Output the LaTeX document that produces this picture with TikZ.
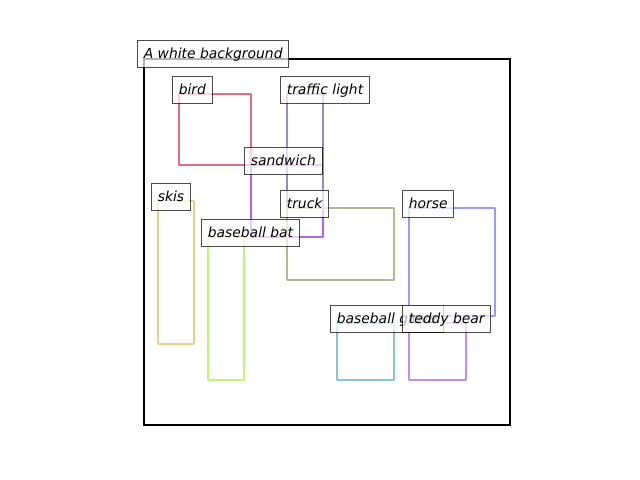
\documentclass[tikz,border=0pt]{standalone}
\usepackage{fontspec}
\setmainfont{DejaVu Sans}
\begin{document}
\begin{tikzpicture}[x=0.72pt,y=-0.72pt,
  box/.style={line width=1.9pt,line join=round},
  lab/.style={anchor=south west,draw=black,draw opacity=0.7,fill=white,fill opacity=0.7,text opacity=1,
    line width=0.8pt,inner xsep=4.5pt,inner ysep=4pt,text height=9.3pt,text depth=2.4pt,font=\itshape\fontsize{10pt}{12pt}\selectfont}]
\definecolor{cbird}{HTML}{E36C84}
\definecolor{ctraffic}{HTML}{9B89BC}
\definecolor{csand}{HTML}{B064F2}
\definecolor{cskis}{HTML}{DDD58A}
\definecolor{cbat}{HTML}{C2F47C}
\definecolor{ctruck}{HTML}{B3BA92}
\definecolor{chorse}{HTML}{9B9BF3}
\definecolor{cglove}{HTML}{89C3DB}
\definecolor{cteddy}{HTML}{C08CF1}
\useasboundingbox (0,0) rectangle (640,480);
\fill[white] (0,0) rectangle (640,480);
\draw[line width=1.6pt,black] (144,59) rectangle (510,425);
% rectangles
\draw[box,cbird] (179,94) rectangle (251,165);
\draw[box,csand] (251,165) rectangle (323,237);
\draw[box,ctraffic] (287,94) rectangle (323,208);
\draw[box,cskis] (158,201) rectangle (194,344);
\draw[box,ctruck] (287,208) rectangle (394,280);
\draw[box,cbat] (208,237) rectangle (244,380);
\draw[box,chorse] (409,208) rectangle (495,316);
\draw[box,cglove] (337,323) rectangle (394,380);
\draw[box,cteddy] (409,323) rectangle (466,380);
% labels
\node[lab] (lbg) at (137,68) {A white background};
\node[lab] (lbird) at (172,104) {bird};
\node[lab] (ltraffic) at (280,104) {traffic light};
\node[lab] (lsand) at (244,175) {sandwich};
\node[lab] (lskis) at (151,211) {skis};
\node[lab] (ltruck) at (280,218) {truck};
\node[lab] (lbat) at (201,247) {baseball bat};
\node[lab] (lhorse) at (402,218) {horse};
\node[lab] (lglove) at (330,333) {baseball glove};
\node[lab] (lteddy) at (402,333) {teddy bear};
\end{tikzpicture}
\end{document}
